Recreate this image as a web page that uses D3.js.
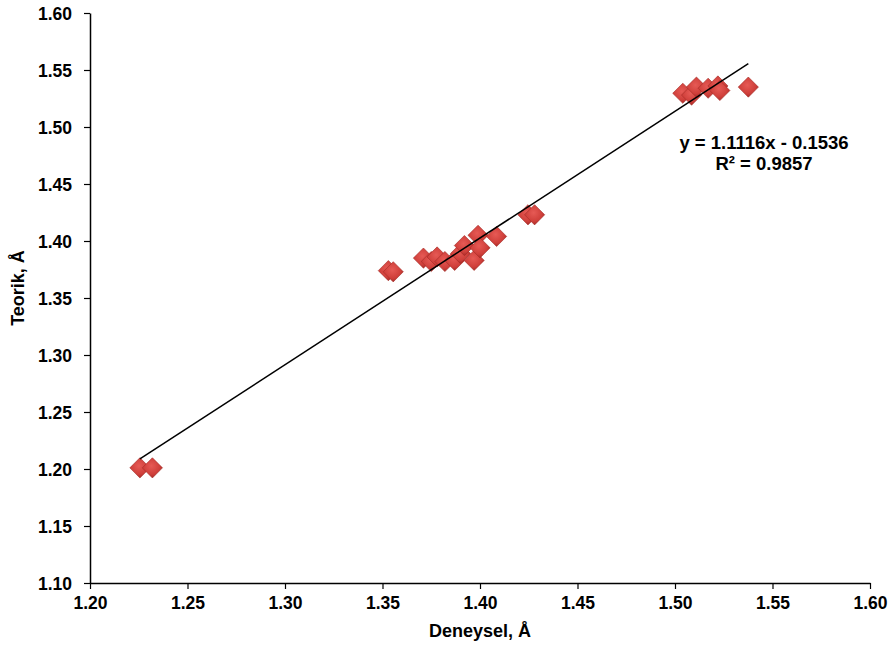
<!DOCTYPE html>
<html>
<head>
<meta charset="utf-8">
<script src="https://cdn.jsdelivr.net/npm/d3@7"></script>
<style>
  body { margin: 0; background: #fff; }
  text { font-family: "Liberation Sans", Arial, sans-serif; font-weight: bold; }
</style>
</head>
<body>
<div id="chart"></div>
<script>
// measured (Deneysel) vs computed (Teorik) values
var deneysel = [1.2256, 1.2320, 1.3530, 1.3555, 1.3710, 1.3750, 1.3780, 1.3820, 1.3870, 1.3900,
                1.3920, 1.3970, 1.3990, 1.4000, 1.4085, 1.4246, 1.4280, 1.5040, 1.5085, 1.5110,
                1.5170, 1.5220, 1.5230, 1.5376];
var teorik = [1.2010, 1.2010, 1.3740, 1.3730, 1.3850, 1.3820, 1.3860, 1.3820, 1.3830, 1.3890,
              1.3960, 1.3830, 1.4050, 1.3940, 1.4040, 1.4230, 1.4230, 1.5296, 1.5280, 1.5350,
              1.5340, 1.5360, 1.5320, 1.5350];
var xTicks = [1.20, 1.25, 1.30, 1.35, 1.40, 1.45, 1.50, 1.55, 1.60];
var yTicks = [1.10, 1.15, 1.20, 1.25, 1.30, 1.35, 1.40, 1.45, 1.50, 1.55, 1.60];
var slope = 1.1116, intercept = -0.1536;
var eqLines = ["y = 1.1116x - 0.1536", "R² = 0.9857"];

var width = 892, height = 646;
var margin = {left: 90, right: 22, top: 13, bottom: 63};

var svg = d3.select("#chart").append("svg")
    .attr("width", width)
    .attr("height", height);

var defs = svg.append("defs");
var grad = defs.append("radialGradient")
    .attr("id", "dgrad")
    .attr("cx", "45%").attr("cy", "40%").attr("r", "60%");
grad.append("stop").attr("offset", "0%").attr("stop-color", "#e65a55");
grad.append("stop").attr("offset", "70%").attr("stop-color", "#cf3f3a");
grad.append("stop").attr("offset", "100%").attr("stop-color", "#a82c28");

var x = d3.scaleLinear()
    .domain([1.20, 1.60])
    .range([margin.left, width - margin.right]);
var y = d3.scaleLinear()
    .domain([1.10, 1.60])
    .range([height - margin.bottom, margin.top]);

var xAxis = svg.append("g")
    .attr("transform", "translate(0," + (height - margin.bottom) + ")")
    .call(d3.axisBottom(x).tickValues(xTicks).tickFormat(d3.format(".2f")).tickSize(6).tickSizeOuter(0));
var yAxis = svg.append("g")
    .attr("transform", "translate(" + margin.left + ",0)")
    .call(d3.axisLeft(y).tickValues(yTicks).tickFormat(d3.format(".2f")).tickSize(6).tickSizeOuter(0));

[xAxis, yAxis].forEach(function(a) {
    a.select(".domain").attr("stroke", "#000").attr("stroke-width", 1.5);
    a.selectAll(".tick line").attr("stroke", "#000").attr("stroke-width", 1.2);
    a.selectAll(".tick text").attr("fill", "#000").style("font-size", "17.5px")
        .style("font-family", "'Liberation Sans', Arial, sans-serif").style("font-weight", "bold");
});
xAxis.selectAll(".tick text").attr("y", 14).attr("dy", "0.71em");
yAxis.selectAll(".tick text").attr("x", -18).attr("dy", "0.35em");

// points
var pts = deneysel.map(function(d, i) { return {x: d, y: teorik[i]}; });
var diamond = d3.symbol().type(d3.symbolDiamond2).size(260);
svg.append("g").selectAll("path")
    .data(pts)
    .enter()
    .append("path")
    .attr("d", diamond)
    .attr("transform", function(d) { return "translate(" + x(d.x) + "," + y(d.y) + ")"; })
    .attr("fill", "url(#dgrad)")
    .attr("stroke", "#a52a25")
    .attr("stroke-width", 0.6);

// trend line
var xr = d3.extent(deneysel);
svg.append("line")
    .attr("x1", x(xr[0])).attr("y1", y(slope * xr[0] + intercept))
    .attr("x2", x(xr[1])).attr("y2", y(slope * xr[1] + intercept))
    .attr("stroke", "#000")
    .attr("stroke-width", 1.5);

svg.append("g").selectAll("text")
    .data(eqLines)
    .enter()
    .append("text")
    .attr("x", 764)
    .attr("y", function(d, i) { return 149 + i * 21; })
    .attr("text-anchor", "middle")
    .style("font-size", "18.5px")
    .text(function(d) { return d; });

// axis titles
svg.append("text")
    .attr("x", 480).attr("y", 637)
    .attr("text-anchor", "middle")
    .style("font-size", "18px")
    .text("Deneysel, Å");
svg.append("text")
    .attr("transform", "translate(24,288) rotate(-90)")
    .attr("text-anchor", "middle")
    .style("font-size", "18px")
    .text("Teorik, Å");
</script>
</body>
</html>
